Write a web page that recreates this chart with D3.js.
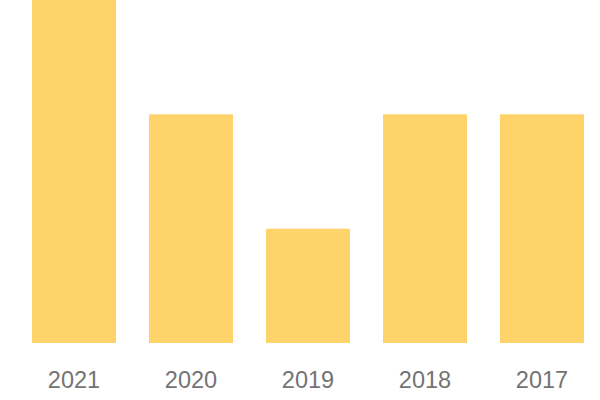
<!DOCTYPE html>
<html><head><meta charset="utf-8">
<script src="https://cdn.jsdelivr.net/npm/d3@7"></script>
<style>html,body{margin:0;padding:0;background:#fff;}</style>
</head><body>
<svg id="chart" width="600" height="400"></svg>
<script>
const categories = ["2021", "2020", "2019", "2018", "2017"];
const values = [3, 2, 1, 2, 2];

const svg = d3.select("#chart");
const x = d3.scaleBand().domain(categories).range([15.5, 600.5]).paddingInner(0.282).paddingOuter(0.141);
const y = d3.scaleLinear().domain([0, 3]).range([343, 0]);

svg.selectAll("rect.bar").data(categories).join("rect")
  .attr("class", "bar")
  .attr("x", d => x(d))
  .attr("width", x.bandwidth())
  .attr("y", (d, i) => y(values[i]))
  .attr("height", (d, i) => y(0) - y(values[i]))
  .attr("fill", "#FED46A");

const axis = svg.append("g").attr("transform", "translate(0,343)")
  .call(d3.axisBottom(x).tickSize(0).tickPadding(45));
axis.select(".domain").remove();
axis.selectAll("text")
  .attr("font-family", "'Liberation Sans', Arial, sans-serif")
  .attr("font-size", 23.5)
  .attr("fill", "#737373")
  .attr("dy", "0");
</script>
</body></html>
